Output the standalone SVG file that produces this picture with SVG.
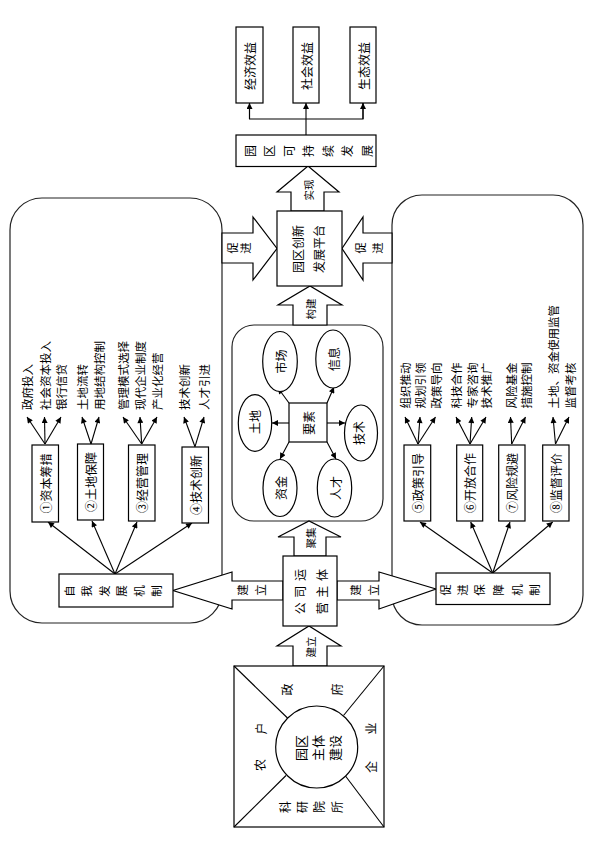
<svg xmlns="http://www.w3.org/2000/svg" width="596" height="844" viewBox="0 0 596 844">
<defs>
<style>
.t{font-family:"Noto Sans CJK SC","Noto Sans",sans-serif;font-size:12px;fill:#000;dominant-baseline:central}
.m{text-anchor:middle}
.st{text-anchor:start}
.sm{font-size:10.5px}
.lb{font-size:11.5px}
.box{fill:#fff;stroke:#000;stroke-width:1.2}
.rr{fill:none;stroke:#222;stroke-width:1.2}
.ba{fill:#fff;stroke:#000;stroke-width:1.2;stroke-linejoin:miter}
.ln{fill:none;stroke:#000;stroke-width:1.1}
</style>
<marker id="ah" viewBox="0 0 10 10" refX="10" refY="5" markerWidth="7" markerHeight="6" markerUnits="userSpaceOnUse" orient="auto"><path d="M0,0 L10,5 L0,10 z" fill="#000"/></marker>
</defs>
<rect width="596" height="844" fill="#fff"/>

<!-- containers -->
<g id="left-container"><rect class="rr" x="10" y="198" width="212" height="425" rx="32" ry="32"/></g>
<g id="right-container"><rect class="rr" x="392" y="195" width="191" height="430" rx="30" ry="30"/></g>
<g id="factor-container"><rect class="rr" x="232" y="325" width="151" height="196" rx="22" ry="22"/></g>

<!-- connectors -->
<g id="connectors">
<!-- top -->
<line class="ln" x1="306" y1="135" x2="306" y2="103" marker-end="url(#ah)"/>
<polyline class="ln" points="249.5,103 249.5,119 363,119 363,103"/>
<line class="ln" x1="249.5" y1="119" x2="249.5" y2="103" marker-end="url(#ah)"/>
<line class="ln" x1="363" y1="119" x2="363" y2="103" marker-end="url(#ah)"/>
<!-- block arrows -->
<polygon class="ba" points="291,211 291,192 277,192 308,166 339,192 324,192 324,211"/>
<polygon class="ba" points="293,325 293,305 278,305 310,286 342,305 327,305 327,325"/>
<polygon class="ba" points="294,556 294,537 278,537 309,521 341,537 326,537 326,556"/>
<polygon class="ba" points="293,666 293,646 277,646 309,626 341,646 327,646 327,666"/>
<polygon class="ba" points="222,233 253,233 253,217 277,248.5 253,280 253,263 222,263"/>
<polygon class="ba" points="392,233 363,233 363,217 342,248.5 363,280 363,263 392,263"/>
<polygon class="ba" points="283,581 232,581 232,572 173,590.5 232,609 232,600 283,600"/>
<polygon class="ba" points="337,581 379,581 379,572 436,589 379,609 379,600 337,600"/>
<!-- factor arrows -->
<line class="ln" x1="289" y1="403" x2="278" y2="388" marker-end="url(#ah)"/>
<line class="ln" x1="327" y1="403" x2="334" y2="387" marker-end="url(#ah)"/>
<line class="ln" x1="289" y1="423" x2="272" y2="423" marker-end="url(#ah)"/>
<line class="ln" x1="327" y1="423" x2="345" y2="423" marker-end="url(#ah)"/>
<line class="ln" x1="289" y1="442" x2="280" y2="459" marker-end="url(#ah)"/>
<line class="ln" x1="327" y1="442" x2="336" y2="459" marker-end="url(#ah)"/>
<!-- left mechanism arrows -->
<line class="ln" x1="115" y1="574" x2="48" y2="522" marker-end="url(#ah)"/>
<line class="ln" x1="115" y1="574" x2="92" y2="521" marker-end="url(#ah)"/>
<line class="ln" x1="115" y1="574" x2="137" y2="522" marker-end="url(#ah)"/>
<line class="ln" x1="115" y1="574" x2="192" y2="523" marker-end="url(#ah)"/>
<!-- right mechanism arrows -->
<line class="ln" x1="492.7" y1="573" x2="420" y2="522" marker-end="url(#ah)"/>
<line class="ln" x1="492.7" y1="573" x2="470.7" y2="522" marker-end="url(#ah)"/>
<line class="ln" x1="492.7" y1="573" x2="510" y2="522" marker-end="url(#ah)"/>
<line class="ln" x1="492.7" y1="573" x2="552.7" y2="522" marker-end="url(#ah)"/>
<!-- left fans -->
<line class="ln" x1="45" y1="444" x2="27" y2="417" marker-end="url(#ah)"/>
<line class="ln" x1="45" y1="444" x2="44.5" y2="417" marker-end="url(#ah)"/>
<line class="ln" x1="45" y1="444" x2="61" y2="417" marker-end="url(#ah)"/>
<line class="ln" x1="91" y1="444" x2="82" y2="417" marker-end="url(#ah)"/>
<line class="ln" x1="91" y1="444" x2="99" y2="417" marker-end="url(#ah)"/>
<line class="ln" x1="141.7" y1="444" x2="123" y2="417" marker-end="url(#ah)"/>
<line class="ln" x1="141.7" y1="444" x2="140" y2="417" marker-end="url(#ah)"/>
<line class="ln" x1="141.7" y1="444" x2="157" y2="417" marker-end="url(#ah)"/>
<line class="ln" x1="195" y1="446.7" x2="184" y2="417" marker-end="url(#ah)"/>
<line class="ln" x1="195" y1="446.7" x2="204" y2="417" marker-end="url(#ah)"/>
<!-- right fans -->
<line class="ln" x1="418" y1="444" x2="405" y2="417" marker-end="url(#ah)"/>
<line class="ln" x1="418" y1="444" x2="420" y2="417" marker-end="url(#ah)"/>
<line class="ln" x1="418" y1="444" x2="435.5" y2="417" marker-end="url(#ah)"/>
<line class="ln" x1="470" y1="444" x2="456" y2="417" marker-end="url(#ah)"/>
<line class="ln" x1="470" y1="444" x2="471.7" y2="417" marker-end="url(#ah)"/>
<line class="ln" x1="470" y1="444" x2="486" y2="417" marker-end="url(#ah)"/>
<line class="ln" x1="511.7" y1="444" x2="510.5" y2="417" marker-end="url(#ah)"/>
<line class="ln" x1="511.7" y1="444" x2="525.5" y2="417" marker-end="url(#ah)"/>
<line class="ln" x1="555.5" y1="444" x2="553" y2="417" marker-end="url(#ah)"/>
<line class="ln" x1="555.5" y1="444" x2="569" y2="417" marker-end="url(#ah)"/>
<!-- arrow labels -->
<text class="t m sm" transform="translate(308,190) rotate(-90)">实现</text>
<text class="t m sm" transform="translate(310,309) rotate(-90)">构建</text>
<text class="t m sm" transform="translate(310,538) rotate(-90)">聚集</text>
<text class="t m sm" transform="translate(310,647) rotate(-90)">建立</text>
<text class="t m lb" transform="translate(232,248) rotate(-90)">促</text>
<text class="t m lb" transform="translate(245,248) rotate(-90)">进</text>
<text class="t m lb" transform="translate(360,248) rotate(-90)">促</text>
<text class="t m lb" transform="translate(377,248) rotate(-90)">进</text>
<text class="t m lb" transform="translate(242,590) rotate(-90)">建</text>
<text class="t m lb" transform="translate(260,590) rotate(-90)">立</text>
<text class="t m lb" transform="translate(355,590) rotate(-90)">建</text>
<text class="t m lb" transform="translate(373,590) rotate(-90)">立</text>
</g>

<!-- top benefit boxes -->
<g id="econ"><rect class="box" x="236" y="27" width="27" height="76"/><text class="t m" transform="translate(249.5,66) rotate(-90)">经济效益</text></g>
<g id="social"><rect class="box" x="293" y="27" width="26" height="76"/><text class="t m" transform="translate(306,66) rotate(-90)">社会效益</text></g>
<g id="eco"><rect class="box" x="350" y="27" width="26" height="76"/><text class="t m" transform="translate(363,66) rotate(-90)">生态效益</text></g>

<g id="sustain"><rect class="box" x="236" y="135" width="140" height="31.5"/>
<text class="t m" transform="translate(249,151) rotate(-90)">园</text>
<text class="t m" transform="translate(268.5,151) rotate(-90)">区</text>
<text class="t m" transform="translate(288,151) rotate(-90)">可</text>
<text class="t m" transform="translate(307.5,151) rotate(-90)">持</text>
<text class="t m" transform="translate(327,151) rotate(-90)">续</text>
<text class="t m" transform="translate(346.5,151) rotate(-90)">发</text>
<text class="t m" transform="translate(366,151) rotate(-90)">展</text>
</g>

<g id="platform"><rect class="box" x="277" y="211" width="65" height="75"/>
<text class="t m" transform="translate(297,249) rotate(-90)">园区创新</text>
<text class="t m" transform="translate(318,249) rotate(-90)">发展平台</text>
</g>

<!-- factors -->
<g id="market"><ellipse class="box" cx="280" cy="361.5" rx="17.3" ry="30"/><text class="t m" transform="translate(280,361.5) rotate(-90)">市场</text></g>
<g id="info"><ellipse class="box" cx="333" cy="359" rx="17.2" ry="29"/><text class="t m" transform="translate(333,359) rotate(-90)">信息</text></g>
<g id="land"><ellipse class="box" cx="255" cy="423" rx="16.7" ry="28.3"/><text class="t m" transform="translate(254,422) rotate(-90)">土地</text></g>
<g id="tech"><ellipse class="box" cx="361" cy="433" rx="16.5" ry="28"/><text class="t m" transform="translate(358,433) rotate(-90)">技术</text></g>
<g id="factor"><rect class="box" x="289" y="403" width="38" height="39"/><text class="t m" transform="translate(308,423) rotate(-90)">要素</text></g>
<g id="capital"><ellipse class="box" cx="280" cy="488" rx="17" ry="28.5"/><text class="t m" transform="translate(280,488) rotate(-90)">资金</text></g>
<g id="talent"><ellipse class="box" cx="334.5" cy="488" rx="17.2" ry="29"/><text class="t m" transform="translate(335,488) rotate(-90)">人才</text></g>

<!-- company -->
<g id="company"><rect class="box" x="283" y="556" width="54" height="70"/>
<text class="t m" transform="translate(299,608.3) rotate(-90)">公</text>
<text class="t m" transform="translate(299,591.7) rotate(-90)">司</text>
<text class="t m" transform="translate(299,575) rotate(-90)">运</text>
<text class="t m" transform="translate(321.7,608.3) rotate(-90)">营</text>
<text class="t m" transform="translate(321.7,591.7) rotate(-90)">主</text>
<text class="t m" transform="translate(321.7,575) rotate(-90)">体</text>
</g>

<!-- left mechanism -->
<g id="self-dev"><rect class="box" x="59" y="574" width="114" height="33"/>
<text class="t m lb" transform="translate(68.5,591) rotate(-90)">自</text>
<text class="t m lb" transform="translate(86,591) rotate(-90)">我</text>
<text class="t m lb" transform="translate(103.5,591) rotate(-90)">发</text>
<text class="t m lb" transform="translate(121,591) rotate(-90)">展</text>
<text class="t m lb" transform="translate(138.5,591) rotate(-90)">机</text>
<text class="t m lb" transform="translate(156,591) rotate(-90)">制</text>
</g>
<g id="m1"><rect class="box" x="32" y="445" width="26.5" height="77"/><text class="t m" transform="translate(45,483.5) rotate(-90)">①资本筹措</text></g>
<g id="m2"><rect class="box" x="77.5" y="444" width="26" height="76"/><text class="t m" transform="translate(90.5,482) rotate(-90)">②土地保障</text></g>
<g id="m3"><rect class="box" x="128.5" y="445" width="26.5" height="76"/><text class="t m" transform="translate(141.7,483) rotate(-90)">③经营管理</text></g>
<g id="m4"><rect class="box" x="182" y="447" width="26.5" height="76"/><text class="t m" transform="translate(195,485) rotate(-90)">④技术创新</text></g>

<g id="left-labels">
<text class="t st lb" transform="translate(27,410) rotate(-90)">政府投入</text>
<text class="t st lb" transform="translate(44.5,410) rotate(-90)">社会资本投入</text>
<text class="t st lb" transform="translate(61,410) rotate(-90)">银行信贷</text>
<text class="t st lb" transform="translate(82,410) rotate(-90)">土地流转</text>
<text class="t st lb" transform="translate(99,410) rotate(-90)">用地结构控制</text>
<text class="t st lb" transform="translate(123,410) rotate(-90)">管理模式选择</text>
<text class="t st lb" transform="translate(140,410) rotate(-90)">现代企业制度</text>
<text class="t st lb" transform="translate(157,410) rotate(-90)">产业化经营</text>
<text class="t st lb" transform="translate(184,410) rotate(-90)">技术创新</text>
<text class="t st lb" transform="translate(204,410) rotate(-90)">人才引进</text>
</g>

<!-- right mechanism -->
<g id="guarantee"><rect class="box" x="436" y="573" width="114" height="31.5"/>
<text class="t m lb" transform="translate(445,590) rotate(-90)">促</text>
<text class="t m lb" transform="translate(462,590) rotate(-90)">进</text>
<text class="t m lb" transform="translate(479,590) rotate(-90)">保</text>
<text class="t m lb" transform="translate(498,590) rotate(-90)">障</text>
<text class="t m lb" transform="translate(516.5,590) rotate(-90)">机</text>
<text class="t m lb" transform="translate(534,590) rotate(-90)">制</text>
</g>
<g id="m5"><rect class="box" x="404" y="445" width="26.7" height="76"/><text class="t m" transform="translate(417.3,483) rotate(-90)">⑤政策引导</text></g>
<g id="m6"><rect class="box" x="456.7" y="445" width="26" height="76"/><text class="t m" transform="translate(469.7,483) rotate(-90)">⑥开放合作</text></g>
<g id="m7"><rect class="box" x="498.7" y="445" width="26.3" height="76"/><text class="t m" transform="translate(511.8,483) rotate(-90)">⑦风险规避</text></g>
<g id="m8"><rect class="box" x="542.7" y="445" width="26.3" height="76"/><text class="t m" transform="translate(555.8,483) rotate(-90)">⑧监督评价</text></g>

<g id="right-labels">
<text class="t st lb" transform="translate(405,408.5) rotate(-90)">组织推动</text>
<text class="t st lb" transform="translate(420,408.5) rotate(-90)">规划引领</text>
<text class="t st lb" transform="translate(436,408.5) rotate(-90)">政策导向</text>
<text class="t st lb" transform="translate(456,408.5) rotate(-90)">科技合作</text>
<text class="t st lb" transform="translate(471.7,408.5) rotate(-90)">专家咨询</text>
<text class="t st lb" transform="translate(486,408.5) rotate(-90)">技术推广</text>
<text class="t st lb" transform="translate(510.5,408.5) rotate(-90)">风险基金</text>
<text class="t st lb" transform="translate(526,408.5) rotate(-90)">措施控制</text>
<text class="t st lb" transform="translate(553,408.5) rotate(-90)">土地、资金使用监管</text>
<text class="t st lb" transform="translate(569.5,408.5) rotate(-90)">监督考核</text>
</g>

<!-- bottom square -->
<g id="subjects">
<rect class="box" x="234" y="666" width="150" height="161"/>
<line class="ln" x1="234" y1="666" x2="287.5" y2="718"/>
<line class="ln" x1="384" y1="666" x2="343.5" y2="715.5"/>
<line class="ln" x1="234" y1="827" x2="286" y2="775.5"/>
<line class="ln" x1="384" y1="827" x2="345.5" y2="776"/>
<circle class="box" cx="316.7" cy="747" r="41"/>
<text class="t m" transform="translate(286.7,689.5) rotate(-90)">政</text>
<text class="t m" transform="translate(336.7,689.5) rotate(-90)">府</text>
<text class="t m" transform="translate(259,765) rotate(-90)">农</text>
<text class="t m" transform="translate(260,728.5) rotate(-90)">户</text>
<text class="t m" transform="translate(370,767) rotate(-90)">企</text>
<text class="t m" transform="translate(370,728.5) rotate(-90)">业</text>
<text class="t m" transform="translate(284,807) rotate(-90)">科</text>
<text class="t m" transform="translate(301,807) rotate(-90)">研</text>
<text class="t m" transform="translate(318.5,807) rotate(-90)">院</text>
<text class="t m" transform="translate(336.5,807) rotate(-90)">所</text>
<text class="t m" style="font-size:13px" transform="translate(300.7,748) rotate(-90)">园区</text>
<text class="t m" style="font-size:13px" transform="translate(317.3,748) rotate(-90)">主体</text>
<text class="t m" style="font-size:13px" transform="translate(334,748) rotate(-90)">建设</text>
</g>
</svg>
